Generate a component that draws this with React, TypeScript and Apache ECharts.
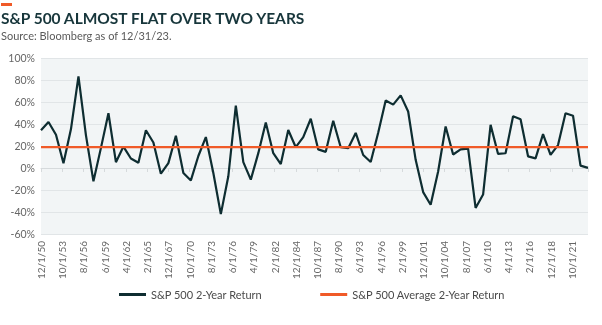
import React, { useEffect, useRef } from "react";
import * as echarts from "echarts";

// Year-end 2-year S&P 500 price return (%), 1950..2023
const years: number[] = [
  1950, 1951, 1952, 1953, 1954, 1955, 1956, 1957, 1958, 1959,
  1960, 1961, 1962, 1963, 1964, 1965, 1966, 1967, 1968, 1969,
  1970, 1971, 1972, 1973, 1974, 1975, 1976, 1977, 1978, 1979,
  1980, 1981, 1982, 1983, 1984, 1985, 1986, 1987, 1988, 1989,
  1990, 1991, 1992, 1993, 1994, 1995, 1996, 1997, 1998, 1999,
  2000, 2001, 2002, 2003, 2004, 2005, 2006, 2007, 2008, 2009,
  2010, 2011, 2012, 2013, 2014, 2015, 2016, 2017, 2018, 2019,
  2020, 2021, 2022, 2023,
];
const twoYearReturn: number[] = [
  34.3, 41.8, 30.2, 4.4, 35.4, 83.3, 29.7, -12.1, 18.3, 49.8,
  5.3, 19.5, 8.6, 4.8, 34.3, 23.2, -5.2, 4.4, 29.3, -4.6,
  -11.3, 10.9, 28.1, -4.5, -41.9, -7.5, 56.7, 5.4, -10.6, 13.5,
  41.3, 13.5, 3.6, 34.6, 18.9, 28.1, 44.8, 16.9, 14.7, 43.0,
  18.9, 18.0, 31.9, 11.8, 5.4, 32.0, 61.3, 57.6, 66.0, 51.4,
  7.4, -21.9, -33.4, -3.2, 37.7, 12.3, 17.0, 17.6, -36.3, -24.1,
  39.2, 12.8, 13.4, 47.0, 44.4, 10.6, 8.7, 30.8, 12.0, 20.8,
  49.8, 47.5, 2.2, 0.1,
];
const averageReturn = 19;
const seriesNames = ["S&P 500 2-Year Return", "S&P 500 Average 2-Year Return"];
const yTicks = { min: -60, max: 100, step: 20 };
// x axis labels every 34 months starting 12/1/50
const labelStepMonths = 34;

const FONT = "Lato, 'Open Sans', sans-serif";

function monthLabel(v: number): string {
  const months = Math.round(v * 12);
  const k = months / labelStepMonths;
  if (Math.abs(k - Math.round(k)) > 0.01) return "";
  const total = years[0] * 12 + 11 + months;
  const y = Math.floor(total / 12);
  const m = (total % 12) + 1;
  return `${m}/1/${String(y % 100).padStart(2, "0")}`;
}

export default function App() {
  const ref = useRef<HTMLDivElement>(null);
  useEffect(() => {
    if (!ref.current) return;
    const chart = echarts.init(ref.current, undefined, { renderer: "svg" });
    const xMin = 0;
    const xMax = years[years.length - 1] - years[0];
    const mainData = twoYearReturn.map((v, i) => [years[i] - years[0], v]);
    const avgData = [
      [xMin, averageReturn],
      [xMax, averageReturn],
    ];
    chart.setOption({
      animation: false,
      textStyle: { fontFamily: FONT },
      title: {
        text: "S&P 500 ALMOST FLAT OVER TWO YEARS",
        subtext: "Source: Bloomberg as of 12/31/23.",
        left: 0,
        top: 10,
        padding: [0, 0, 0, 1],
        itemGap: 4,
        textStyle: { fontFamily: FONT, fontSize: 15.5, fontWeight: "bold", color: "#17363b" },
        subtextStyle: { fontFamily: FONT, fontSize: 11, color: "#5a5a5a" },
      },
      graphic: [
        { type: "rect", shape: { x: 1, y: 3, width: 11, height: 3 }, style: { fill: "#f05a28" } },
      ],
      grid: {
        left: 41,
        right: 14,
        top: 58,
        bottom: 91,
        show: true,
        backgroundColor: "#f2f5f6",
        borderWidth: 0,
      },
      legend: {
        bottom: 20,
        left: 114,
        itemGap: 58,
        itemWidth: 27,
        itemHeight: 3,
        icon: "rect",
        textStyle: { fontFamily: FONT, fontSize: 11, color: "#4a4a4a" },
        data: seriesNames,
      },
      xAxis: [
        {
          type: "value",
          position: "top",
          min: xMin,
          max: xMax,
          interval: labelStepMonths / 12,
          axisLine: { show: true, onZero: true, lineStyle: { color: "#d6dadc" } },
          axisTick: { show: true, inside: true, length: 4, lineStyle: { color: "#d6dadc" } },
          axisLabel: { show: false },
          splitLine: { show: false },
        },
        {
          type: "value",
          position: "bottom",
          min: xMin,
          max: xMax,
          interval: labelStepMonths / 12,
          axisLine: { show: false, onZero: false },
          axisTick: { show: false },
          splitLine: { show: false },
          axisLabel: {
            rotate: 90,
            margin: 7,
            fontSize: 10,
            color: "#666",
            showMaxLabel: false,
            formatter: (v: number) => monthLabel(v),
          },
        },
      ],
      yAxis: {
        type: "value",
        min: yTicks.min,
        max: yTicks.max,
        interval: yTicks.step,
        axisLine: { show: false },
        axisTick: { show: false },
        axisLabel: { formatter: "{value}%", fontSize: 10.5, color: "#666", margin: 6 },
        splitLine: { lineStyle: { color: "#e1e5e7", width: 1 } },
      },
      series: [
        {
          name: seriesNames[0],
          type: "line",
          xAxisIndex: 0,
          data: mainData,
          showSymbol: false,
          symbol: "none",
          lineStyle: { color: "#0e2d31", width: 2.2 },
          itemStyle: { color: "#0e2d31" },
          z: 2,
        },
        {
          name: seriesNames[1],
          type: "line",
          xAxisIndex: 0,
          data: avgData,
          showSymbol: false,
          symbol: "none",
          lineStyle: { color: "#f05a28", width: 2.2 },
          itemStyle: { color: "#f05a28" },
          z: 3,
        },
      ],
    });
    return () => chart.dispose();
  }, []);
  return (
    <div
      ref={ref}
      style={{ position: "fixed", left: 0, top: 0, width: 602, height: 325 }}
    />
  );
}
